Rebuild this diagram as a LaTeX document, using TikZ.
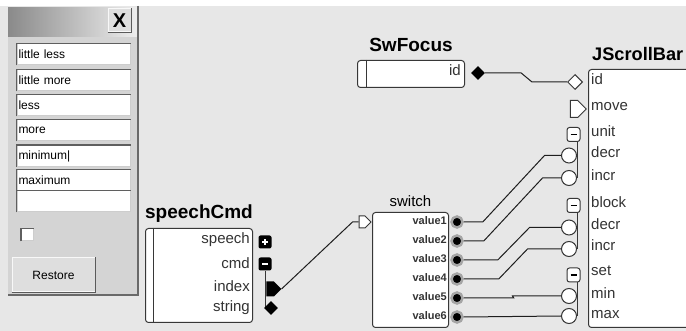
\documentclass[tikz,border=0pt]{standalone}
\usepackage{fontspec}
\setmainfont{Liberation Sans}
\usepackage{tikz}
\usetikzlibrary{shapes.geometric,shapes.symbols,positioning,calc}
\definecolor{CanvasBg} {RGB}{231,231,231}
\definecolor{PanelBg}  {RGB}{212,212,212}
\definecolor{PanelEdge}{RGB}{105,105,105}
\definecolor{BarDark}  {RGB}{138,138,138}
\definecolor{BarLight} {RGB}{238,238,238}
\definecolor{BtnFill}  {RGB}{222,222,222}
\definecolor{BtnLight} {RGB}{248,248,248}
\definecolor{BtnDark}  {RGB}{90,90,90}
\definecolor{FldLine}  {RGB}{205,205,205}
\definecolor{FldDark}  {RGB}{95,95,95}
\definecolor{BoxLine}  {RGB}{55,55,55}
\definecolor{WireCol}  {RGB}{30,30,30}
\definecolor{RingCol}  {RGB}{165,165,165}
\tikzset{
  nd_box/.style={
    rectangle, rounded corners=3pt,
    draw=BoxLine, fill=white, line width=1pt, inner sep=0pt},
  nd_title/.style={font=\bfseries\fontsize{19}{19}\selectfont, inner sep=0pt},
  nd_sub/.style={font=\fontsize{15}{15}\selectfont, inner sep=0pt},
  nd_lbl/.style={font=\fontsize{15}{15}\selectfont, inner sep=0pt, text=black!80},
  nd_val/.style={font=\bfseries\fontsize{11}{11}\selectfont, inner sep=0pt, text=black!80},
  nd_field/.style={
    rectangle, fill=white, draw=FldLine, line width=1pt,
    minimum width=113pt, minimum height=21pt,
    text width=110pt, inner xsep=1.5pt, align=left,
    font=\fontsize{12}{12}\selectfont},
  nd_chk/.style={
    rectangle, fill=white, draw=FldLine, line width=1pt,
    minimum size=12pt, inner sep=0pt},
  nd_btn/.style={
    rectangle, fill=BtnFill, draw=BtnLight, line width=1pt,
    inner sep=0pt, font=\fontsize{12}{12}\selectfont},
  fld_dark/.style={draw=FldDark, line width=1.5pt},
  btn_dark/.style={draw=BtnDark, line width=1.5pt},
  stripe/.style={draw=BoxLine, line width=1pt},
  pt_plus/.style={
    rectangle, rounded corners=2pt, fill=black,
    minimum size=13pt, inner sep=0pt,
    path picture={\draw[white,line width=1.5pt]
      ([xshift=-3pt]path picture bounding box.center) -- ++(6pt,0)
      ([yshift=-3pt]path picture bounding box.center) -- ++(0,6pt);}},
  pt_minus/.style={
    rectangle, rounded corners=2pt, fill=black,
    minimum size=13pt, inner sep=0pt,
    path picture={\draw[white,line width=1.5pt]
      ([xshift=-3pt]path picture bounding box.center) -- ++(6pt,0);}},
  pt_minus_w/.style={
    rectangle, rounded corners=2.5pt, fill=white, draw=BoxLine, line width=1pt,
    minimum width=13pt, minimum height=14pt, inner sep=0pt,
    path picture={\draw[black,line width=1.3pt]
      ([xshift=-3pt]path picture bounding box.center) -- ++(6pt,0);}},
  pt_sig_w/.style={
    signal, signal to=east, fill=white, draw=BoxLine, line width=1pt,
    minimum width=12pt, minimum height=12pt, inner sep=0pt},
  pt_sig_b/.style={
    signal, signal to=east, fill=black,
    minimum width=15pt, minimum height=15pt, inner sep=0pt},
  pt_dia_b/.style={diamond, fill=black, minimum size=14pt, inner sep=0pt},
  pt_dia_w/.style={diamond, fill=white, draw=BoxLine, line width=1pt,
    minimum size=15pt, inner sep=0pt},
  pt_ring/.style={circle, fill=black, draw=RingCol, line width=2.5pt,
    minimum size=11pt, inner sep=0pt},
  pt_circ/.style={circle, fill=white, draw=BoxLine, line width=1pt,
    minimum size=15pt, inner sep=0pt},
  wire/.style={draw=WireCol, line width=1pt},
  grp/.style={draw=BoxLine, line width=1pt},
}
\newcommand{\insetedge}[1]{%
  \draw[fld_dark] (#1.south west) |- (#1.north east);
}

\begin{document}
\begin{tikzpicture}[x=1pt,y=-1pt]
\useasboundingbox (0,0) rectangle (686,331);
\clip (0,0) rectangle (686,331);
\fill[white] (0,0) rectangle (686,331);
\fill[CanvasBg] (0,6) rectangle (686,331);

%% Control panel
\fill[PanelBg] (8,8) rectangle (138,295);
\shade[left color=BarDark,right color=BarLight] (8,8) rectangle (138,37);
\draw[PanelEdge,line width=1.2pt] (138,6) -- (138,295) -- (8,295);
\node[nd_btn,minimum width=23pt,minimum height=23pt,
      font=\bfseries\fontsize{20}{20}\selectfont] (close) at (119.5,20.5) {X};
\draw[btn_dark] (close.south west) -| (close.north east);

\foreach \n/\y/\t in {f1/54.5/little less,f2/80.5/little more,f3/105.5/less,
                      f4/130.5/more,f5/156/minimum|,f6/180.5/maximum,f7/201.5/}
  {\node[nd_field] (\n) at (73.5,\y) {\t};
   \insetedge{\n}}

\node[nd_chk] (chk) at (27.5,235) {};
\insetedge{chk}
\node[nd_btn,minimum width=83pt,minimum height=34pt] (rst) at (53.5,275) {Restore};
\draw[btn_dark] (rst.south west) -| (rst.north east);

%% speechCmd
\node[nd_box,minimum width=107pt,minimum height=94pt,anchor=north west] (sc) at (145,228) {};
\draw[stripe] ([xshift=8pt]sc.north west) -- ([xshift=8pt]sc.south west);
\node[nd_title,anchor=base] (scT) at ([yshift=9pt]sc.north) {speechCmd};
\foreach \n/\y/\t in {sp/241/speech,cm/266/cmd,ix/289/index,st/309/string}
  {\node[nd_lbl,anchor=mid east] (l\n) at (250,\y) {\t};}
\node[pt_plus]  (sp) at (265,242) {};
\node[pt_minus] (cm) at (265,264) {};
\draw[grp] (cm.south) |- (271,308);
\node[pt_sig_b] (ix) at (270,289) {};
\node[pt_dia_b] (st) at (271,308) {};

%% SwFocus
\node[nd_box,minimum width=107pt,minimum height=27pt,anchor=north west] (sf) at (357,60) {};
\draw[stripe] ([xshift=9pt]sf.north west) -- ([xshift=9pt]sf.south west);
\node[nd_title,anchor=base] (sfT) at ([yshift=8pt]sf.north) {SwFocus};
\node[nd_lbl,anchor=mid east] (lsf) at (461,73) {id};
\node[pt_dia_b] (sfid) at (478,73) {};

%% switch
\node[nd_box,minimum width=76pt,minimum height=115pt,anchor=north west] (sw) at (372,212) {};
\node[nd_sub,anchor=base] (swT) at ([yshift=5pt]sw.north) {switch};
\node[pt_sig_w] (swin) at (362,222) {};
\foreach \i/\y in {1/222,2/241,3/260,4/279,5/298,6/317}
  {\node[nd_val,anchor=mid east] (lv\i) at (447,\y) {value\i};
   \node[pt_ring] (v\i) at (457,\y) {};}

%% JScrollBar
\node[nd_box,minimum width=120pt,minimum height=258pt,anchor=north west] (jb) at (588,69) {};
\node[nd_title,font=\bfseries\fontsize{18.2}{18.2}\selectfont,anchor=base west]
  (jbT) at (592,60.5) {JScrollBar};
\foreach \n/\y/\t in {jid/82/id,jmv/108/move,jun/134/unit,jd1/155/decr,ji1/178/incr,
                      jbl/205/block,jd2/227/decr,ji2/248/incr,jse/273/set,
                      jmn/296/min,jmx/316/max}
  {\node[nd_lbl,anchor=mid west] (l\n) at (591,\y) {\t};}
\node[pt_dia_w] (pjid) at (575,82) {};
\node[pt_sig_w,minimum width=16pt,minimum height=17pt] (pjmv) at (574,109) {};
\foreach \n/\y in {jun/134.5,jbl/205.5,jse/275}
  {\node[pt_minus_w] (p\n) at (573.5,\y) {};}
\foreach \n/\y in {jd1/155.5,ji1/178,jd2/227.5,ji2/249,jmn/296,jmx/316}
  {\node[pt_circ] (p\n) at (569,\y) {};}
\draw[grp] (pji1.east |- pjun.south) -- (pji1.east);
\draw[grp] (pji2.east |- pjbl.south) -- (pji2.east);
\draw[grp] (pjmx.east |- pjse.south) -- (pjmx.east);

%% wires
\draw[wire] (ix.east) -- ([xshift=-6pt]swin.west) -- (swin.west);
\draw[wire] (sfid.east) -- ++(36,0) -- ([xshift=-35pt]pjid.west) -- (pjid.west);
\draw[wire] (v1.east) -- ++(19,0) -- ([xshift=-16.5pt]pjd1.west) -- (pjd1.west);
\draw[wire] (v2.east) -- ++(20,0) -- ([xshift=-18.5pt]pji1.west) -- (pji1.west);
\draw[wire] (v3.east) -- ++(34,0) -- ([xshift=-31.5pt]pjd2.west) -- (pjd2.west);
\draw[wire] (v4.east) -- ++(35,0) -- ([xshift=-33.5pt]pji2.west) -- (pji2.west);
\draw[wire] (v5.east) -- ++(50,0) -- ([xshift=-48.5pt]pjmn.west) -- (pjmn.west);
\draw[wire] (v6.east) -- (pjmx.west);

\end{tikzpicture}
\end{document}
